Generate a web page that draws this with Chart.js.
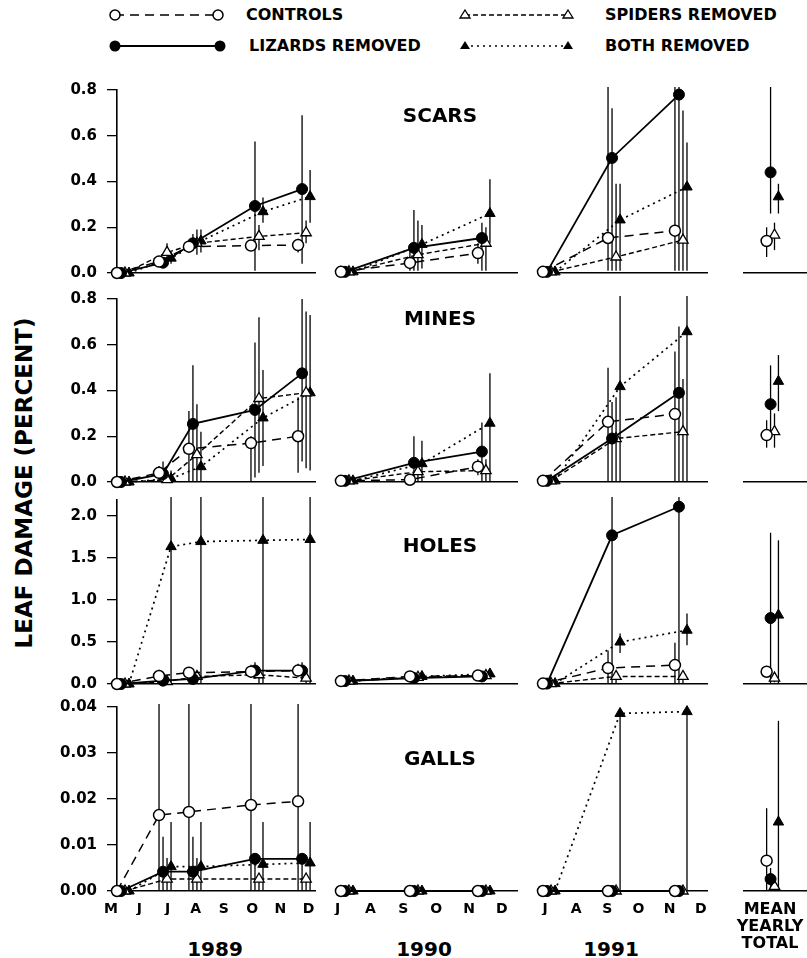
<!DOCTYPE html>
<html>
<head>
<meta charset="utf-8">
<script src="https://cdn.jsdelivr.net/npm/chart.js@4.4.1/dist/chart.umd.min.js"></script>
<style>
  body { margin: 0; width: 807px; height: 958px; position: relative; overflow: hidden; background: #fff;
         font-family: "DejaVu Sans", sans-serif; font-weight: bold; color: #000; }
  canvas, .txt, svg { position: absolute; }
  .txt { white-space: nowrap; line-height: 1; }
  .c { transform: translate(-50%, -50%); }
  .lg { font-size: 16px; transform: translateY(-50%); }
</style>
</head>
<body>
<svg width="807" height="60" style="left:0;top:0">
  <line x1="115" y1="15" x2="218" y2="15" stroke="#000" stroke-width="1.5" stroke-dasharray="9 6"/>
  <circle cx="115" cy="15" r="5" fill="#fff" stroke="#000" stroke-width="1.5"/>
  <circle cx="218" cy="15" r="5" fill="#fff" stroke="#000" stroke-width="1.5"/>
  <line x1="115" y1="46" x2="220" y2="46" stroke="#000" stroke-width="1.8"/>
  <circle cx="115" cy="46" r="5.5" fill="#000"/>
  <circle cx="220" cy="46" r="5.5" fill="#000"/>
  <line x1="465" y1="15" x2="568" y2="15" stroke="#000" stroke-width="1.4" stroke-dasharray="5 3"/>
  <path d="M465 10 L470 18 L460 18 Z" fill="#fff" stroke="#000" stroke-width="1.3"/>
  <path d="M568 10 L573 18 L563 18 Z" fill="#fff" stroke="#000" stroke-width="1.3"/>
  <line x1="465" y1="46" x2="568" y2="46" stroke="#000" stroke-width="1.6" stroke-dasharray="2 4"/>
  <path d="M465 41 L470 49 L460 49 Z" fill="#000"/>
  <path d="M568 41 L573 49 L563 49 Z" fill="#000"/>
</svg>
<div class="txt lg" style="left:246px;top:15px">CONTROLS</div>
<div class="txt lg" style="left:249px;top:46px">LIZARDS REMOVED</div>
<div class="txt lg" style="left:605px;top:15px">SPIDERS REMOVED</div>
<div class="txt lg" style="left:605px;top:46px">BOTH REMOVED</div>
<div class="txt c" style="left:24px;top:483px;font-size:23px;transform:translate(-50%,-50%) rotate(-90deg)">LEAF DAMAGE (PERCENT)</div>
<script>
// sampling dates (month number) per year, and month tick labels
const dates1989 = [5.21, 6.70, 7.76, 9.96, 11.63]
const dates1990 = [7.10, 9.20, 11.27]
const dates1991 = [6.93, 9.02, 11.17]
const datesMean = [0.73]
const months1989 = ["M", "J", "J", "A", "S", "O", "N", "D"]
const monthTicks1989 = [5, 6, 7, 8, 9, 10, 11, 12]
const months1990 = ["J", "A", "S", "O", "N", "D"]
const monthTicks1990 = [7, 8, 9, 10, 11, 12]
const months1991 = ["J", "A", "S", "O", "N", "D"]
const monthTicks1991 = [7, 8, 9, 10, 11, 12]
const yearLabels = ["1989", "1990", "1991"]
const meanLabel = ["MEAN", "YEARLY", "TOTAL"]

const yTicksPct = [0, 0.2, 0.4, 0.6, 0.8]
const yLabelsPct = ["0.0", "0.2", "0.4", "0.6", "0.8"]
const yTicksHoles = [0, 0.5, 1, 1.5, 2]
const yLabelsHoles = ["0.0", "0.5", "1.0", "1.5", "2.0"]
const yTicksGalls = [0, 0.01, 0.02, 0.03, 0.04]
const yLabelsGalls = ["0.00", "0.01", "0.02", "0.03", "0.04"]

// series order everywhere: controls, lizards removed, spiders removed, both removed
const scars1989 = [
  [0.00, 0.050, 0.115, 0.120, 0.122],
  [0.00, 0.045, 0.130, 0.293, 0.367],
  [0.00, 0.090, 0.130, 0.160, 0.176],
  [0.00, 0.065, 0.140, 0.268, 0.334],
]
const scars1989Err = [
  [[0, 0.01], [0.03, 0.07], [0.09, 0.14], [0.10, 0.14], [0.09, 0.15]],
  [[0, 0.01], [0.03, 0.06], [0.10, 0.17], [0.01, 0.575], [0.04, 0.69]],
  [[0, 0.01], [0.05, 0.13], [0.08, 0.19], [0.10, 0.21], [0.13, 0.23]],
  [[0, 0.01], [0.04, 0.09], [0.09, 0.19], [0.22, 0.33], [0.22, 0.45]],
]
const scars1990 = [
  [0.005, 0.044, 0.087],
  [0.005, 0.110, 0.153],
  [0.005, 0.080, 0.130],
  [0.005, 0.125, 0.260],
]
const scars1990Err = [
  [[0, 0.01], [0.01, 0.10], [0.04, 0.13]],
  [[0, 0.01], [0.01, 0.275], [0.01, 0.22]],
  [[0, 0.01], [0.01, 0.23], [0.01, 0.20]],
  [[0, 0.01], [0.02, 0.21], [0.13, 0.41]],
]
const scars1991 = [
  [0.005, 0.153, 0.185],
  [0.005, 0.503, 0.780],
  [0.005, 0.070, 0.144],
  [0.005, 0.232, 0.376],
]
const scars1991Err = [
  [[0, 0.01], [0.01, 0.85], [0.01, 0.85]],
  [[0, 0.01], [0.01, 0.72], [0.01, 0.85]],
  [[0, 0.01], [0.01, 0.39], [0.01, 0.71]],
  [[0, 0.01], [0.01, 0.39], [0.01, 0.57]],
]
const scarsMean = [[0.140], [0.440], [0.166], [0.333]]
const scarsMeanErr = [[[0.07, 0.20]], [[0.26, 0.85]], [[0.10, 0.22]], [[0.26, 0.39]]]

const mines1989 = [
  [0.00, 0.040, 0.145, 0.170, 0.200],
  [0.00, 0.035, 0.254, 0.315, 0.475],
  [0.00, 0.010, 0.120, 0.365, 0.390],
  [0.00, 0.015, 0.067, 0.280, 0.390],
]
const mines1989Err = [
  [[0, 0.01], [0.01, 0.07], [0, 0.31], [0, 0.20], [0.04, 0.37]],
  [[0, 0.01], [0.01, 0.09], [0, 0.51], [0.02, 0.61], [0.09, 0.80]],
  [[0, 0.01], [0, 0.05], [0, 0.34], [0.04, 0.72], [0.06, 0.745]],
  [[0, 0.01], [0, 0.05], [0, 0.22], [0.07, 0.49], [0.05, 0.73]],
]
const mines1990 = [
  [0.005, 0.010, 0.067],
  [0.005, 0.084, 0.133],
  [0.005, 0.045, 0.050],
  [0.005, 0.080, 0.257],
]
const mines1990Err = [
  [[0, 0.01], [0, 0.03], [0.03, 0.10]],
  [[0, 0.01], [0, 0.20], [0, 0.26]],
  [[0, 0.01], [0, 0.09], [0, 0.10]],
  [[0, 0.01], [0, 0.18], [0, 0.475]],
]
const mines1991 = [
  [0.005, 0.263, 0.297],
  [0.005, 0.190, 0.390],
  [0.005, 0.190, 0.220],
  [0.005, 0.417, 0.657],
]
const mines1991Err = [
  [[0, 0.01], [0, 0.50], [0, 0.57]],
  [[0, 0.01], [0, 0.35], [0, 0.68]],
  [[0, 0.01], [0, 0.37], [0, 0.45]],
  [[0, 0.01], [0, 0.85], [0, 0.85]],
]
const minesMean = [[0.205], [0.340], [0.220], [0.440]]
const minesMeanErr = [[[0.15, 0.27]], [[0.19, 0.51]], [[0.15, 0.30]], [[0.31, 0.555]]]

const holes1989 = [
  [0.00, 0.095, 0.135, 0.147, 0.160],
  [0.00, 0.040, 0.060, 0.160, 0.160],
  [0.00, 0.030, 0.090, 0.110, 0.070],
  [0.00, 1.635, 1.695, 1.710, 1.720],
]
const holes1989Err = [
  [[0, 0.02], [0.03, 0.17], [0.06, 0.20], [0.07, 0.23], [0.08, 0.24]],
  [[0, 0.02], [0, 0.10], [0, 0.12], [0.06, 0.26], [0.06, 0.26]],
  [[0, 0.02], [0, 0.07], [0, 0.12], [0, 0.20], [0, 0.15]],
  [[0, 0.02], [0, 2.3], [0, 2.3], [0, 2.3], [0, 2.3]],
]
const holes1990 = [
  [0.035, 0.090, 0.100],
  [0.035, 0.070, 0.090],
  [0.035, 0.080, 0.100],
  [0.035, 0.090, 0.120],
]
const holes1990Err = [
  [[0.02, 0.05], [0.07, 0.11], [0.08, 0.12]],
  [[0.02, 0.05], [0.05, 0.09], [0.07, 0.11]],
  [[0.02, 0.05], [0.06, 0.10], [0.08, 0.12]],
  [[0.02, 0.05], [0.07, 0.11], [0.09, 0.15]],
]
const holes1991 = [
  [0.005, 0.190, 0.225],
  [0.005, 1.770, 2.110],
  [0.005, 0.090, 0.090],
  [0.005, 0.500, 0.640],
]
const holes1991Err = [
  [[0, 0.01], [0, 0.40], [0, 0.49]],
  [[0, 0.01], [0, 2.3], [0, 2.3]],
  [[0, 0.01], [0, 0.14], [0, 0.14]],
  [[0, 0.01], [0.37, 0.60], [0.46, 0.84]],
]
const holesMean = [[0.146], [0.785], [0.070], [0.820]]
const holesMeanErr = [[[0.08, 0.20]], [[0, 1.80]], [[0.02, 0.12]], [[0, 1.71]]]

const galls1989 = [
  [0, 0.0165, 0.0172, 0.0187, 0.0195],
  [0, 0.0042, 0.0042, 0.0070, 0.0070],
  [0, 0.0026, 0.0026, 0.0026, 0.0026],
  [0, 0.0053, 0.0053, 0.0058, 0.0061],
]
const galls1989Err = [
  [[0, 0], [0, 0.045], [0, 0.045], [0, 0.045], [0, 0.045]],
  [[0, 0], [0, 0.0118], [0, 0.0118], [0, 0.0072], [0, 0.0072]],
  [[0, 0], [0, 0.0072], [0, 0.0072], [0, 0.0026], [0, 0.0026]],
  [[0, 0], [0, 0.015], [0, 0.015], [0, 0.015], [0, 0.015]],
]
const galls1990 = [[0, 0, 0], [0, 0, 0], [0, 0, 0], [0, 0, 0]]
const galls1990Err = [
  [[0, 0], [0, 0], [0, 0]], [[0, 0], [0, 0], [0, 0]],
  [[0, 0], [0, 0], [0, 0]], [[0, 0], [0, 0], [0, 0]],
]
const galls1991 = [[0, 0, 0], [0, 0, 0], [0, 0, 0], [0, 0.0386, 0.0390]]
const galls1991Err = [
  [[0, 0], [0, 0], [0, 0]], [[0, 0], [0, 0], [0, 0]],
  [[0, 0], [0, 0], [0, 0]], [[0, 0], [0, 0.0386], [0, 0.039]],
]
const gallsMean = [[0.0066], [0.0026], [0.0010], [0.0150]]
const gallsMeanErr = [[[0, 0.018]], [[0, 0.005]], [[0, 0.002]], [[0, 0.037]]]

// ---- layout ----
const rowBox = [[90, 273], [299, 482], [500, 684], [707, 891]]
const colBox = [[117, 315], [337, 517], [538, 707], [744, 806]]
const colRange = [[5.21, 12.23], [6.98, 12.46], [6.77, 12.2], [0, 2]]
const colJitter = [0.142, 0.122, 0.129, 0.127]
const colDates = [dates1989, dates1990, dates1991, datesMean]
const colTicks = [monthTicks1989, monthTicks1990, monthTicks1991, []]
const colMonths = [months1989, months1990, months1991, []]

const rows = [
  { name: "SCARS", titleY: 115, max: 0.8, ticks: yTicksPct, labels: yLabelsPct,
    data: [scars1989, scars1990, scars1991, scarsMean], err: [scars1989Err, scars1990Err, scars1991Err, scarsMeanErr] },
  { name: "MINES", titleY: 318, max: 0.8, ticks: yTicksPct, labels: yLabelsPct,
    data: [mines1989, mines1990, mines1991, minesMean], err: [mines1989Err, mines1990Err, mines1991Err, minesMeanErr] },
  { name: "HOLES", titleY: 545, max: 2.19, ticks: yTicksHoles, labels: yLabelsHoles,
    data: [holes1989, holes1990, holes1991, holesMean], err: [holes1989Err, holes1990Err, holes1991Err, holesMeanErr] },
  { name: "GALLS", titleY: 758, max: 0.04, ticks: yTicksGalls, labels: yLabelsGalls,
    data: [galls1989, galls1990, galls1991, gallsMean], err: [galls1989Err, galls1990Err, galls1991Err, gallsMeanErr] },
]

const seriesStyle = [
  { borderDash: [9, 6], borderWidth: 1.5, pointStyle: "circle", pointRadius: 5.5, pointBackgroundColor: "#fff", pointBorderWidth: 1.5 },
  { borderDash: [], borderWidth: 1.8, pointStyle: "circle", pointRadius: 5.5, pointBackgroundColor: "#000", pointBorderWidth: 1 },
  { borderDash: [5, 3], borderWidth: 1.4, pointStyle: "triangle", pointRadius: 6, pointBackgroundColor: "#fff", pointBorderWidth: 1.3 },
  { borderDash: [2, 4], borderWidth: 1.7, pointStyle: "triangle", pointRadius: 6, pointBackgroundColor: "#000", pointBorderWidth: 1 },
]

const font = (size) => ({ family: "DejaVu Sans", size, weight: "bold" })

function addText(text, x, y, size, extra) {
  const d = document.createElement("div")
  d.className = "txt c"
  d.textContent = text
  d.style.left = x + "px"
  d.style.top = y + "px"
  d.style.fontSize = size + "px"
  if (extra) Object.assign(d.style, extra)
  document.body.appendChild(d)
}

// drop the half-label padding that Chart.js reserves around axes
function noAxisPadding(s) {
  s.paddingTop = 0
  s.paddingBottom = 0
  s.paddingLeft = 0
  s.paddingRight = 0
}

function makePanel(r, c) {
  const row = rows[r]
  const [top, bottom] = rowBox[r]
  const [left, right] = colBox[c]
  const last = r === 3
  const showMonths = last && c < 3
  const padL = c === 0 ? left : 10, padR = 8, padT = 12, padB = last ? 34 : 10
  const axisH = showMonths ? 24 : 0

  const canvas = document.createElement("canvas")
  canvas.width = right - left + padL + padR
  canvas.height = bottom - top + padT + padB
  canvas.style.left = (left - padL) + "px"
  canvas.style.top = (top - padT) + "px"
  document.body.appendChild(canvas)

  const dates = colDates[c]
  const jit = colJitter[c]
  const datasets = []
  row.data[c].forEach((vals, s) => {
    datasets.push({
      type: "line",
      data: vals.map((v, i) => ({ x: dates[i] + s * jit, y: v })),
      borderColor: "#000",
      pointBorderColor: "#000",
      showLine: c < 3,
      clip: false,
      order: s,
      tension: 0,
      ...seriesStyle[s],
    })
    const bars = []
    row.err[c][s].forEach(([lo, hi], i) => {
      const x = dates[i] + s * jit
      bars.push({ x, y: lo }, { x, y: hi }, { x, y: null })
    })
    datasets.push({
      type: "line",
      data: bars,
      borderColor: "#000",
      borderWidth: 1.3,
      pointRadius: 0,
      spanGaps: false,
      clip: { left: false, right: false, bottom: false, top: 3 },
      order: 10 + s,
    })
  })

  new Chart(canvas, {
    type: "line",
    data: { datasets },
    options: {
      responsive: false,
      animation: false,
      events: [],
      layout: { padding: { left: c === 0 ? 0 : padL, right: padR, top: padT, bottom: padB - axisH } },
      plugins: { legend: { display: false }, tooltip: { enabled: false } },
      scales: {
        x: {
          type: "linear",
          bounds: "data",
          offset: false,
          min: colRange[c][0],
          max: colRange[c][1],
          afterBuildTicks: (s) => { s.ticks = colTicks[c].map(v => ({ value: v })) },
          afterFit: (s) => { s.height = axisH; noAxisPadding(s) },
          ticks: {
            display: showMonths,
            autoSkip: false,
            maxRotation: 0,
            padding: 10,
            color: "#000",
            font: font(14),
            callback: (v, i) => colMonths[c][i],
          },
          grid: { display: false, drawTicks: false },
          border: { display: true, color: "#000", width: 1.6 },
        },
        y: {
          display: c === 0,
          bounds: "data",
          min: 0,
          max: row.max,
          afterBuildTicks: (s) => { s.ticks = row.ticks.map(v => ({ value: v })) },
          afterFit: (s) => { s.width = c === 0 ? left : 0; noAxisPadding(s) },
          ticks: { color: "#000", font: font(15), padding: 10, autoSkip: false, callback: (v, i) => row.labels[i] },
          grid: { drawOnChartArea: false, drawTicks: true, tickLength: 10, color: "#000", lineWidth: 1.3 },
          border: { display: true, color: "#000", width: 1.6 },
        },
      },
    },
  })
}

for (let r = 0; r < rows.length; r++) {
  for (let c = 0; c < 4; c++) makePanel(r, c)
  addText(rows[r].name, 440, rows[r].titleY, 20)
}
const yearX = [215, 424, 611]
yearLabels.forEach((t, i) => addText(t, yearX[i], 949, 20))
meanLabel.forEach((t, i) => addText(t, 770, 909 + i * 17, 16))
</script>
</body>
</html>
